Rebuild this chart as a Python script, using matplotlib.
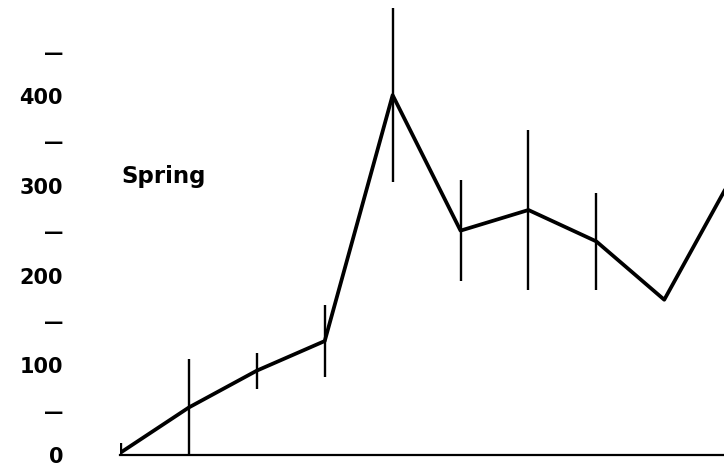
import matplotlib
matplotlib.use("Agg")
import matplotlib.pyplot as plt
import numpy as np

# Data
positions = [0, 1, 2, 3, 4, 5, 6, 7, 8, 9]
values = [3, 53, 94, 127, 401, 250, 273, 238, 173, 310]
errors = [10, 54, 20, 40, 97, 56, 89, 54, 0, 0]
major_ticks = [0, 100, 200, 300, 400]
minor_ticks = [50, 150, 250, 350, 450]
season_label = "Spring"

fig = plt.figure(figsize=(7.24, 4.66), dpi=100)
ax = fig.add_axes([120 / 724, 11 / 466, (724 - 120) / 724, 455 / 466])

ax.errorbar(positions, values, yerr=errors, fmt="none", ecolor="black",
            elinewidth=1.7, capsize=0, zorder=2)
ax.plot(positions, values, color="black", lw=2.7, solid_joinstyle="round",
        solid_capstyle="round", zorder=3)

ax.set_xlim(-0.015, 8.88)
ax.set_ylim(0, 507)

for s in ["left", "right", "top"]:
    ax.spines[s].set_visible(False)
ax.spines["bottom"].set_linewidth(1.6)
ax.set_xticks([])

ax.set_yticks(major_ticks)
ax.set_yticklabels([str(t) for t in major_ticks], fontsize=15, fontweight="bold")
ax.set_yticks(minor_ticks, minor=True)
ax.set_yticklabels(["\u2014"] * len(minor_ticks), minor=True, fontsize=14,
                   fontweight="bold")
ax.tick_params(axis="y", which="both", length=0, pad=41)

ax.text(0.01, 303, season_label, fontsize=16.5, fontweight="bold",
        ha="left", va="baseline")

fig.savefig("out.png", dpi=100)
